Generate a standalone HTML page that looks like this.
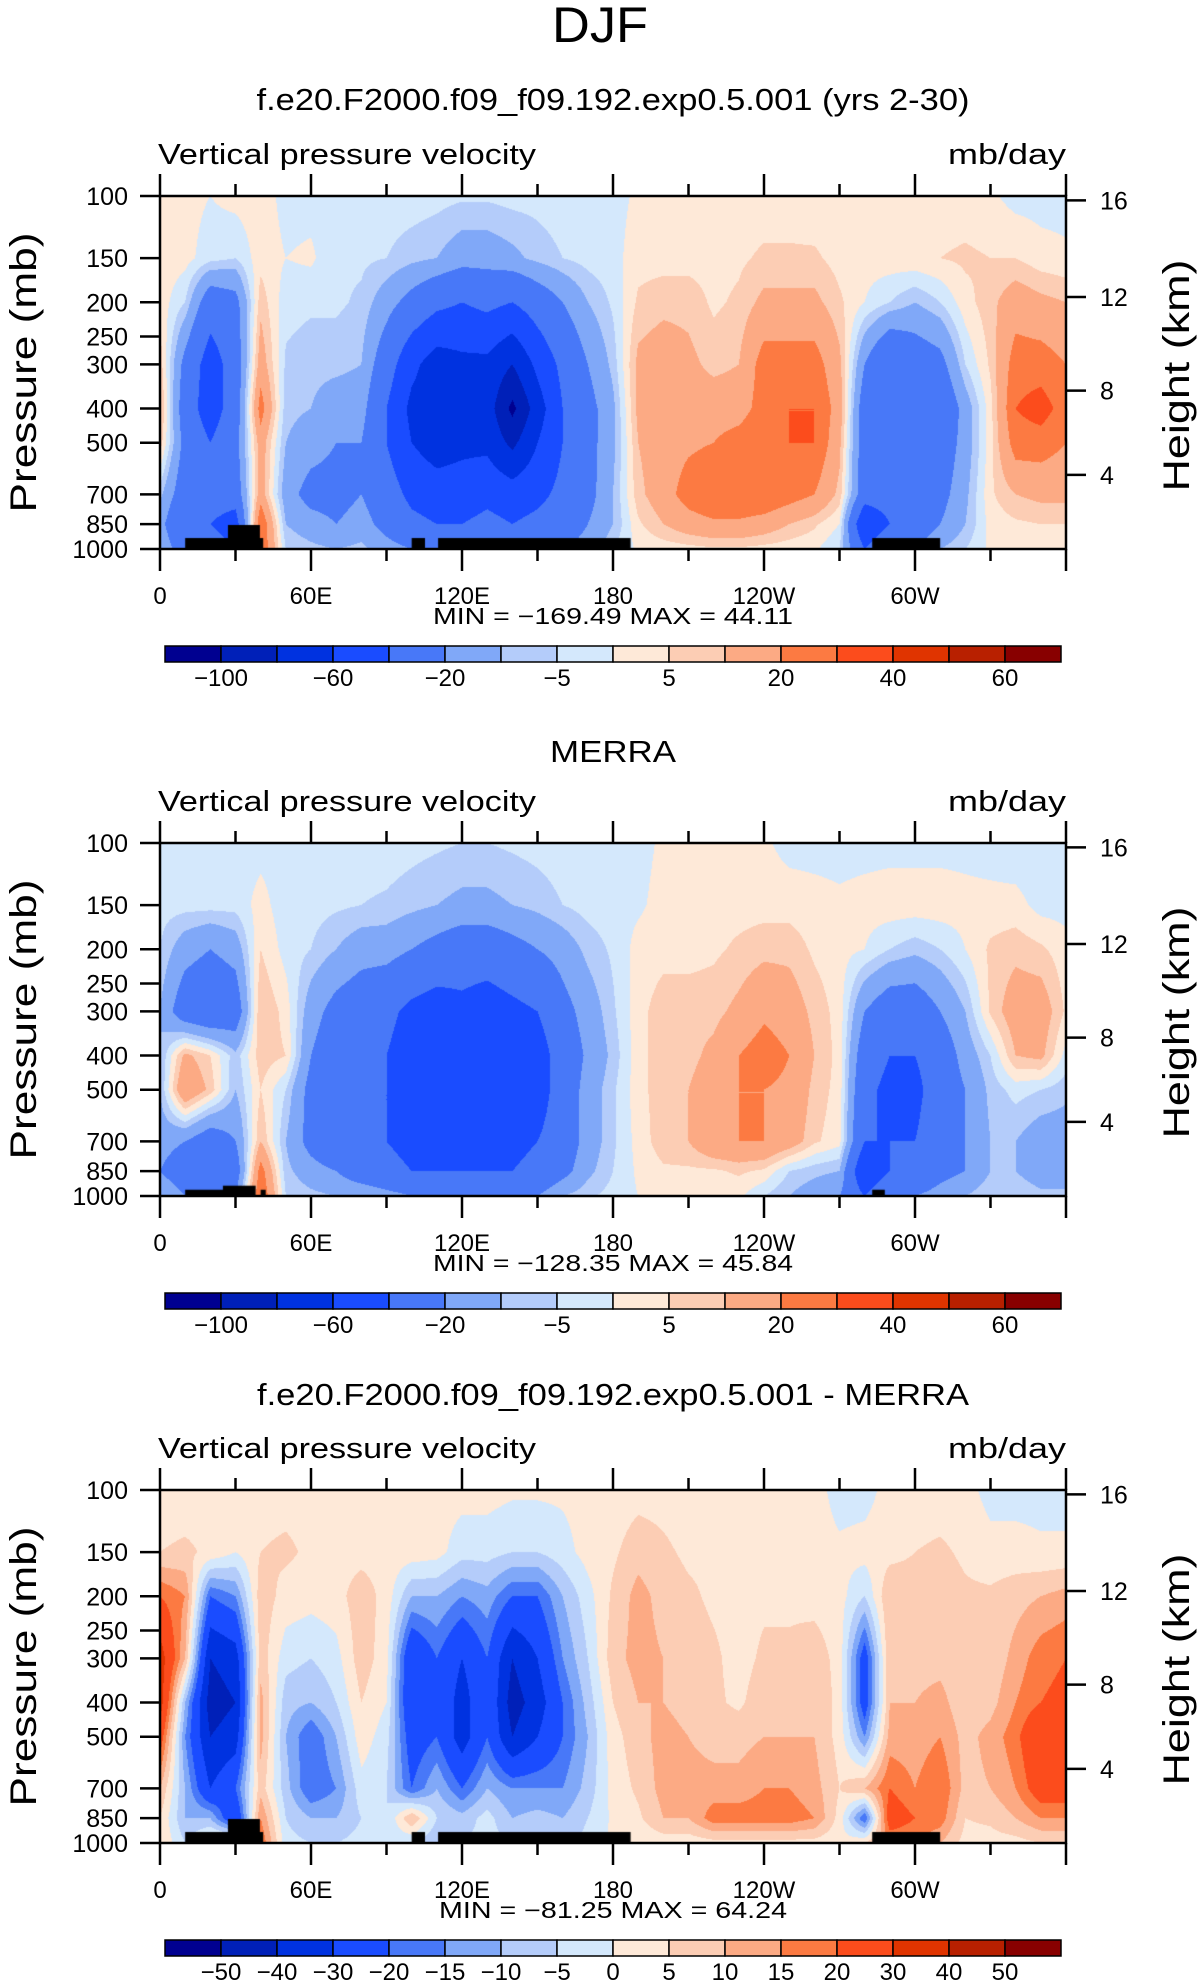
<!DOCTYPE html>
<html><head><meta charset="utf-8">
<style>
html,body{margin:0;padding:0;background:#fff;}
#root{position:relative;width:1203px;height:1987px;overflow:hidden;font-family:"Liberation Sans",sans-serif;}
canvas{position:absolute;}
svg{position:absolute;left:0;top:0;}
</style></head>
<body>
<div id="root">
<canvas id="c0" width="906" height="353" style="left:160px;top:196px"></canvas>
<canvas id="c1" width="906" height="353" style="left:160px;top:843px"></canvas>
<canvas id="c2" width="906" height="353" style="left:160px;top:1490px"></canvas>
<svg id="ov" width="1203" height="1987"></svg>
</div>
<script>
const lons = [0,10,20,30,40,50,60,70,80,90,100,110,120,130,140,150,160,170,180,190,200,210,220,230,240,250,260,270,280,290,300,310,320,330,340,350,360];
const plevs = [100,150,200,300,400,500,700,850,1000];
const pTicks = [100,150,200,250,300,400,500,700,850,1000];
const zTicks = [4,8,12,16];
const xTickLons = [0,60,120,180,240,300];
const xTickLabels = ["0","60E","120E","180","120W","60W"];
const levelsA = [-100,-80,-60,-40,-20,-10,-5,0,5,10,20,30,40,50,60];
const labelsA = ["","\u2212100","","\u221260","","\u221220","","\u22125","","5","","20","","40","","60",""];
const levelsB = [-50,-40,-30,-20,-15,-10,-5,0,5,10,15,20,30,40,50];
const colors = ["#000090","#0020b8","#0032e0","#1a4cff","#4878f8","#80a8f8","#b4ccfa","#d4e8fc","#fee9d8","#fccdb4","#fcaa84","#fc7a42","#fc4c1c","#e03400","#b82000","#880000"];

const model = [
[2,3,3,8,12,8,-8,-15,-10],[2,2,-5,-25,-30,-25,-30,-40,-30],[0,-3,-30,-50,-50,-40,-30,-40,-30],[2,-5,-25,-30,-30,-25,-30,-50,-40],
[3,3,8,15,25,15,15,30,30],[-2,0,-3,-6,-8,-10,-15,-10,-5],[-2,1,-4,-8,-10,-15,-25,-15,-8],[-2,-4,-4,-8,-15,-20,-25,-20,-10],
[-2,-4,-6,-10,-15,-20,-20,-15,-8],[-2,-5,-15,-30,-40,-40,-30,-25,-15],[-2,-8,-25,-55,-65,-60,-45,-35,-20],[-3,-10,-35,-70,-70,-70,-50,-40,-20],
[-4,-15,-40,-65,-70,-65,-50,-40,-20],[-4,-15,-35,-65,-70,-65,-45,-35,-25],[-3,-12,-40,-80,-105,-85,-50,-40,-30],[-3,-8,-30,-55,-70,-60,-45,-35,-30],
[-2,-5,-20,-35,-40,-40,-35,-30,-20],[-2,-3,-10,-20,-25,-25,-25,-20,-15],[-2,-2,-4,-8,-12,-12,-10,-10,-5],[1,3,6,12,12,10,8,4,1],
[2,3,8,15,15,15,15,10,2],[2,3,8,12,15,18,25,15,3],[2,3,4,8,15,20,30,18,4],[2,4,6,10,15,25,30,18,4],
[2,6,12,25,25,30,30,15,3],[2,6,12,25,30,30,25,10,2],[1,6,12,25,30,30,20,6,1],[1,3,6,12,15,12,8,0,-5],
[1,2,0,-20,-30,-30,-30,-60,-40],[2,3,-5,-40,-40,-40,-30,-40,-20],[2,4,-10,-30,-30,-20,-25,-30,-20],[2,5,-5,-25,-35,-30,-25,-20,-10],
[2,6,3,-5,-15,-15,-12,-10,-5],[1,5,8,6,3,3,4,2,1],[-2,5,15,25,30,25,10,4,2],[-2,2,12,25,35,25,12,5,2],[-2,1,10,20,25,20,12,5,2]];

const merra = [
[-2,-3,-5,-10,-10,-10,-15,-20,-10],[-2,-3,-15,-30,12,20,-20,-30,-20],[-2,-3,-20,-35,5,8,-30,-40,-20],[-2,-3,-15,-30,-8,-10,-20,-30,-20],
[-2,2,5,10,8,5,10,25,30],[-2,-3,-2,3,5,-5,-10,-8,-5],[-2,-3,-5,-15,-20,-25,-25,-15,-8],[-2,-4,-10,-25,-30,-35,-35,-20,-10],
[-2,-5,-15,-30,-40,-35,-40,-30,-10],[-2,-6,-15,-35,-40,-40,-40,-35,-15],[-3,-8,-20,-45,-50,-50,-45,-40,-20],[-4,-10,-25,-50,-60,-55,-45,-40,-20],
[-5,-12,-30,-45,-50,-50,-45,-40,-20],[-5,-12,-30,-50,-55,-50,-45,-40,-20],[-4,-10,-25,-45,-60,-55,-45,-40,-20],[-3,-8,-20,-40,-50,-50,-40,-35,-20],
[-2,-5,-15,-25,-30,-30,-30,-25,-10],[-2,-3,-8,-15,-18,-15,-15,-12,-6],[-2,-2,-4,-6,-8,-6,-6,-5,-3],[-2,-1,2,3,3,3,2,1,0],
[1,2,3,8,8,8,8,4,1],[2,3,3,8,8,10,10,4,1],[2,3,4,8,12,15,18,4,1],[2,3,6,12,20,20,20,6,1],
[1,3,8,18,25,20,20,4,-5],[-2,3,8,15,20,18,15,-5,-10],[-2,2,4,8,10,8,6,-8,-15],[-2,1,2,3,3,3,2,-10,-20],
[-2,2,0,-20,-30,-35,-40,-60,-40],[-2,3,-5,-30,-40,-45,-40,-40,-20],[-2,3,-8,-30,-40,-45,-40,-35,-20],[-2,3,-5,-20,-30,-30,-30,-25,-15],
[-2,2,0,-10,-15,-20,-20,-20,-10],[-3,2,6,6,-5,-8,-10,-10,-5],[-4,2,8,15,10,-3,-10,-10,-5],[-4,-2,6,15,12,-5,-15,-15,-8],[-4,-2,2,4,-2,-8,-15,-15,-8]];

const diff = [
[2,5,20,35,35,25,10,5,5],[2,6,15,10,-10,-15,-10,-10,-5],[3,4,-20,-40,-45,-40,-30,-10,5],[2,0,-15,-35,-40,-35,-20,-30,10],
[3,5,8,8,12,12,8,15,20],[3,6,3,-3,-8,-10,-8,-5,-3],[3,4,2,-5,-10,-20,-20,-10,-5],[2,3,3,-2,-5,-10,-15,-10,-5],
[2,3,8,8,5,3,-2,-5,-3],[2,3,3,2,0,-3,-5,-5,-3],[2,3,-10,-30,-30,-25,-20,10,-5],[2,2,-10,-20,-20,-20,-10,-5,-10],
[2,-3,-15,-30,-35,-35,-20,-8,-5],[2,-3,-12,-20,-20,-20,-10,-3,-3],[1,-5,-20,-40,-45,-40,-15,-10,-5],[1,-5,-20,-30,-35,-30,-15,-8,-10],
[1,-2,-10,-15,-20,-20,-15,-10,-8],[2,2,-2,-5,-8,-10,-8,-5,-3],[2,4,6,8,5,3,2,1,1],[3,8,12,12,10,8,6,4,1],
[3,6,8,10,10,12,12,10,2],[2,4,6,8,8,10,12,10,2],[2,4,4,6,6,8,12,18,3],[2,4,3,3,4,8,12,18,3],
[2,4,4,6,8,10,15,18,3],[2,3,4,6,8,10,15,18,3],[2,2,3,8,10,10,12,15,3],[-2,1,2,3,3,3,5,3,1],
[-2,2,-5,-25,-25,-15,10,-20,5],[2,3,10,10,10,12,20,25,15],[2,5,8,8,10,12,15,20,15],[2,6,8,8,12,15,20,18,10],
[2,4,6,6,6,8,8,5,3],[-2,2,6,6,8,12,10,6,3],[-2,2,8,12,15,18,15,10,3],[-2,1,10,18,20,30,25,15,5],[-2,1,12,20,22,25,25,15,5]];

const topoModel = [[10,41,931],[27,39.7,855],[100,105.3,931],[110.5,187,931],[283,310,931]];
const topoMerra = [[10,30,960],[25,38,935],[40,42,960],[283,288,960]];

const titles = ["f.e20.F2000.f09_f09.192.exp0.5.001 (yrs 2-30)","MERRA","f.e20.F2000.f09_f09.192.exp0.5.001 - MERRA"];
const minmax = [["\u2212169.49","44.11"],["\u2212128.35","45.84"],["\u221281.25","64.24"]];

const PX=160, PW=906, PH=353;
const tops=[196,843,1490];
const titleY=[99,751,1394];
const titleW=[713,126,712];
function xOf(lon){return PX+lon/360*PW;}
function yOfP(p,top){return top+(Math.log10(p)-2)*PH;}
function pOfZ(z){return z<=11?1013.25*Math.pow(1-2.2558e-5*z*1000,5.2559):226.3*Math.exp(-(z-11)/6.3416);}

function drawField(id,grid,levels,topo){
  const cv=document.getElementById(id),ctx=cv.getContext('2d');
  const img=ctx.createImageData(PW,PH);
  const rgb=colors.map(c=>[parseInt(c.slice(1,3),16),parseInt(c.slice(3,5),16),parseInt(c.slice(5,7),16)]);
  const lp=plevs.map(p=>Math.log10(p));
  for(let y=0;y<PH;y++){
    const l=2+(y+0.5)/PH;
    let k=0;while(k<lp.length-2&&l>lp[k+1])k++;
    const fy=Math.min(1,Math.max(0,(l-lp[k])/(lp[k+1]-lp[k])));
    for(let x=0;x<PW;x++){
      const lon=(x+0.5)/PW*360;
      let i=Math.min(lons.length-2,Math.floor(lon/10));
      const fx=(lon-lons[i])/10;
      const v=(grid[i][k]*(1-fx)+grid[i+1][k]*fx)*(1-fy)+(grid[i][k+1]*(1-fx)+grid[i+1][k+1]*fx)*fy;
      let c=0;while(c<levels.length&&v>=levels[c])c++;
      const o=(y*PW+x)*4;img.data[o]=rgb[c][0];img.data[o+1]=rgb[c][1];img.data[o+2]=rgb[c][2];img.data[o+3]=255;
    }
  }
  ctx.putImageData(img,0,0);
  ctx.fillStyle='#000';
  topo.forEach(t=>{const x0=t[0]/360*PW,x1=t[1]/360*PW,y0=(Math.log10(t[2])-2)*PH;ctx.fillRect(x0,y0,x1-x0,PH-y0);});
}
drawField('c0',model,levelsA,topoModel);
drawField('c1',merra,levelsA,topoMerra);
drawField('c2',diff,levelsB,topoModel);

const NS='http://www.w3.org/2000/svg';
const svg=document.getElementById('ov');
function mk(tag,attrs,parent){const e=document.createElementNS(NS,tag);for(const k in attrs)e.setAttribute(k,attrs[k]);(parent||svg).appendChild(e);return e;}
function txt(s,attrs,parent){const e=mk('text',attrs,parent);e.textContent=s;return e;}

const djf=txt("DJF",{x:600,y:42,'text-anchor':'middle','font-size':50,'font-family':'Liberation Sans, sans-serif','textLength':96,'lengthAdjust':'spacingAndGlyphs',fill:'#000'});



for(let n=0;n<3;n++){
  const top=tops[n],bot=top+PH;
  const g=mk('g',{});
  
  
  const t=txt(titles[n],{x:613,y:titleY[n]+11,'text-anchor':'middle','font-size':31,fill:'#000','textLength':titleW[n],'lengthAdjust':'spacingAndGlyphs'},g);
  
  
  const l=txt("Vertical pressure velocity",{x:158,y:top-32,'font-size':29,fill:'#000','textLength':378,'lengthAdjust':'spacingAndGlyphs'},g);
  
  
  const u=txt("mb/day",{x:948,y:top-32,'font-size':29,fill:'#000','textLength':118,'lengthAdjust':'spacingAndGlyphs'},g);
  
  
  const fr=mk('rect',{x:PX,y:top,width:PW,height:PH,fill:'none',stroke:'#000','stroke-width':2.5},g);
  
  
  for(let lon=0;lon<=360;lon+=30){
    const x=xOf(lon),major=lon%60===0;
    const len=major?22:12;
    mk('line',{x1:x,y1:bot,x2:x,y2:bot+len,stroke:'#000','stroke-width':2.5},g);
    mk('line',{x1:x,y1:top,x2:x,y2:top-len,stroke:'#000','stroke-width':2.5},g);
  }
  xTickLons.forEach((lon,i)=>{
    const e=txt(xTickLabels[i],{x:xOf(lon),y:bot+55,'text-anchor':'middle','font-size':24,fill:'#000'},g);
    
    
  });
  pTicks.forEach(p=>{
    const y=yOfP(p,top);
    mk('line',{x1:PX-20,y1:y,x2:PX,y2:y,stroke:'#000','stroke-width':2.5},g);
    const e=txt(String(p),{x:PX-32,y:y+9,'text-anchor':'end','font-size':25,fill:'#000'},g);
    
    
  });
  zTicks.forEach(z=>{
    const y=yOfP(pOfZ(z),top);
    mk('line',{x1:PX+PW,y1:y,x2:PX+PW+20,y2:y,stroke:'#000','stroke-width':2.5},g);
    const e=txt(String(z),{x:PX+PW+34,y:y+9,'font-size':25,fill:'#000'},g);
    
    
  });
  const cy=top+PH/2;
  const yl=txt("Pressure (mb)",{x:36,y:cy,'text-anchor':'middle','font-size':37,fill:'#000',transform:'rotate(-90 36 '+cy+')','textLength':280,'lengthAdjust':'spacingAndGlyphs'},g);
  
  
  const yr=txt("Height (km)",{x:1189,y:cy+3,'text-anchor':'middle','font-size':37,fill:'#000',transform:'rotate(-90 1189 '+(cy+3)+')','textLength':232,'lengthAdjust':'spacingAndGlyphs'},g);
  
  
  const mm=txt("MIN = "+minmax[n][0]+"   MAX =   "+minmax[n][1],{x:613,y:bot+75,'text-anchor':'middle','font-size':23,fill:'#000','textLength':n==2?348:360,'lengthAdjust':'spacingAndGlyphs',"xml:space":"preserve"},g);
  
  
  const cb=mk('g',{},g);
  
  
  const cx0=165,cx1=1061,bw=(cx1-cx0)/16,by=top+450,bh=16;
  colors.forEach((c,i)=>{
    const r=mk('rect',{x:cx0+i*bw,y:by,width:bw,height:bh,fill:c,stroke:'#000','stroke-width':1.5},cb);
    
    
  });
  const labs=n===2?levelsB.map(v=>v<0?"\u2212"+(-v):String(v)):labelsA.slice(1,16);
  labs.forEach((s,i)=>{
    if(!s)return;
    const e=txt(s,{x:cx0+(i+1)*bw,y:by+40,'text-anchor':'middle','font-size':24,fill:'#000'},cb);
    
    
  });
}
</script>
</body></html>
